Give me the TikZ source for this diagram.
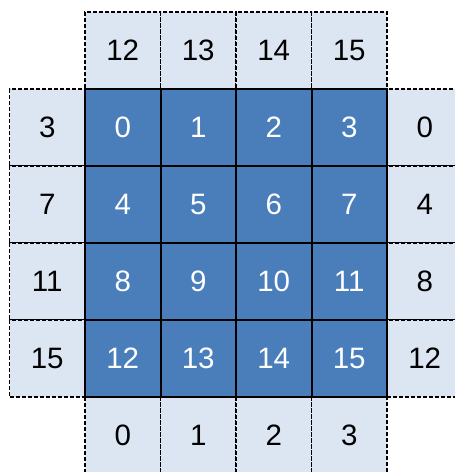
\documentclass[tikz,border=0pt]{standalone}
\usepackage{fontspec}
\setmainfont{Liberation Sans}
\usetikzlibrary{positioning, backgrounds}
\definecolor{cellBlue}{HTML}{4A7EBB}
\definecolor{ghostBlue}{HTML}{DCE6F2}
\tikzset{
  cell/.style={rectangle, draw=black, line width=2pt, fill=cellBlue,
               text=white, minimum width=75.5pt, minimum height=77pt,
               inner sep=0pt, outer sep=0pt, font=\fontsize{29.5}{31}\selectfont},
  ghost/.style={rectangle, draw=black, line width=1.4pt, dash pattern=on 4pt off 2pt,
                fill=ghostBlue, text=black, minimum width=75.5pt, minimum height=77pt,
                inner sep=0pt, outer sep=0pt, font=\fontsize{29.5}{31}\selectfont},
}
\begin{document}
\begin{tikzpicture}[x=1pt, y=1pt]
    \clip (0,0) rectangle (455,-472);
    \useasboundingbox (0,0) rectangle (455,-472);
    % inner 4x4 block
    \foreach \i in {0,...,3} {
      \foreach \j in {0,...,3} {
        \pgfmathtruncatemacro\n{4*\i+\j}
        \node[cell] (c\n) at ({122.75+75.5*\j},{-127.5-77*\i}) {\n};
      }
    }
    % wrap-around halo
    \begin{pgfonlayer}{background}
      \foreach \j in {0,...,3} {
        \pgfmathtruncatemacro\bot{12+\j}
        \node[ghost, above=0pt of c\j] (t\j) {\bot};
        \node[ghost, below=0pt of c\bot] (b\j) {\j};
      }
      \foreach \i in {0,...,3} {
        \pgfmathtruncatemacro\lft{4*\i}
        \pgfmathtruncatemacro\rgt{4*\i+3}
        \node[ghost, left=0pt of c\lft] (l\i) {\rgt};
        \node[ghost, right=0pt of c\rgt] (r\i) {\lft};
      }
    \end{pgfonlayer}
\end{tikzpicture}
\end{document}
